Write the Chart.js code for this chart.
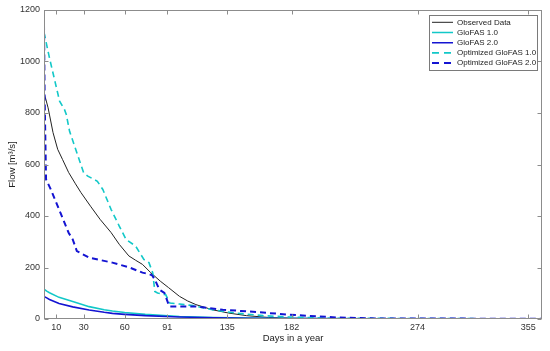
<!DOCTYPE html>
<html><head><meta charset="utf-8">
<script src="https://cdn.jsdelivr.net/npm/chart.js@4"></script>
<style>html,body{margin:0;padding:0;background:#fff}</style>
</head><body>
<canvas id="c" width="550" height="351"></canvas>
<script>
// ---- data ----
const xTicks = [10, 30, 60, 91, 135, 182, 274, 355];
const yTicks = [0, 200, 400, 600, 800, 1000, 1200];
const seriesNames = ['Observed Data', 'GloFAS 1.0', 'GloFAS 2.0', 'Optimized GloFAS 1.0', 'Optimized GloFAS 2.0'];

const obsDays = [1, 2, 4, 7.6, 11, 14.5, 19, 24, 28, 35, 42, 50, 56, 63, 68, 73, 79, 86, 92, 100, 106, 112, 124, 136, 149, 165, 182, 220, 365];
const obsFlow = [870, 860, 820, 724, 659, 620, 569, 525, 491, 438, 387, 336, 290, 245, 228, 212, 180, 147, 122, 88, 70, 56, 36, 23, 13, 6, 3, 1, 0.5];

const g1Days = [1, 3, 5, 12, 22, 34, 45, 51, 60, 75, 100, 125, 150, 182, 240, 365];
const g1Flow = [116, 108, 102, 84, 68, 48, 36, 31, 25, 18, 10, 6, 4, 2, 1, 0.3];

const g2Days = [1, 3, 5, 12, 22, 34, 45, 51, 60, 75, 100, 125, 150, 182, 240, 365];
const g2Flow = [87, 82, 76, 60, 47, 35, 26, 22, 18, 13, 8, 5, 3, 2, 1, 0.3];

const og1Days = [1, 5, 9, 12.4, 16, 17.3, 19.7, 25, 30, 33, 40, 44, 50, 56, 61, 68, 74, 77.7, 80.5, 82, 84, 90, 93, 100, 110, 124, 141, 161, 180, 210, 365];
const og1Flow = [1113, 1014, 923, 846, 813, 794, 729, 646, 568, 555, 535, 503, 426, 361, 309, 283, 231, 219, 179, 107, 101, 94, 62, 58, 52, 36, 23, 13, 8, 3, 0.5];

const og2Days = [1, 1.5, 2.5, 6, 12, 19, 22, 25, 34, 51, 63.5, 73, 78, 80, 82, 85.4, 89, 92.6, 112, 131.6, 148.7, 165.7, 180, 195, 215, 245, 365];
const og2Flow = [1144, 853, 542, 503, 426, 335, 309, 264, 238, 219, 200, 180, 174, 170, 153, 114, 101, 49, 49, 36, 30, 23, 17, 12, 6, 2, 1];

const zip = (xs, ys) => xs.map((x, i) => ({x: x, y: ys[i]}));

const CYAN = '#12C8C8';
const BLUE = '#1414D2';

const FONT = 'Liberation Sans, Arial, Helvetica, sans-serif';

const boxPlugin = {
  id: 'matlabBox',
  afterLayout(chart) {
    const l = chart.legend;
    if (!l) return;
    l.left = 429.8; l.top = 16.1; l.width = 108; l.right = l.left + l.width;
    l.height = 290; l.bottom = l.top + l.height;
  },
  afterDraw(chart) {
    const {ctx, chartArea: a, scales: {x, y}} = chart;
    ctx.save();
    ctx.strokeStyle = '#8c8c8c';
    ctx.lineWidth = 1;
    const L = Math.round(a.left) + 0.5, R = Math.round(a.right) - 0.5;
    const T = Math.round(a.top) + 0.5, B = Math.round(a.bottom) - 0.5;
    ctx.strokeRect(L, T, R - L, B - T);
    ctx.beginPath();
    xTicks.forEach(v => {
      const p = Math.round(x.getPixelForValue(v)) + 0.5;
      ctx.moveTo(p, B); ctx.lineTo(p, B - 4);
      ctx.moveTo(p, T); ctx.lineTo(p, T + 4);
    });
    yTicks.forEach(v => {
      const p = Math.round(y.getPixelForValue(v)) + 0.5;
      ctx.moveTo(L, p); ctx.lineTo(L + 4, p);
      ctx.moveTo(R, p); ctx.lineTo(R - 4, p);
    });
    ctx.stroke();
    ctx.strokeStyle = '#7a7a7a';
    ctx.strokeRect(429.5, 15.5, 108, 55);
    ctx.restore();
  }
};

new Chart(document.getElementById('c'), {
  type: 'line',
  data: {
    datasets: [
      {label: seriesNames[0], data: zip(obsDays, obsFlow), borderColor: '#222222', backgroundColor: '#222222', borderWidth: 1, order: 5},
      {label: seriesNames[1], data: zip(g1Days, g1Flow), borderColor: CYAN, backgroundColor: CYAN, borderWidth: 1.6, order: 4},
      {label: seriesNames[2], data: zip(g2Days, g2Flow), borderColor: BLUE, backgroundColor: BLUE, borderWidth: 1.6, order: 3},
      {label: seriesNames[3], data: zip(og1Days, og1Flow), borderColor: CYAN, backgroundColor: CYAN, borderWidth: 1.6, borderDash: [6, 4], order: 2},
      {label: seriesNames[4], data: zip(og2Days, og2Flow), borderColor: BLUE, backgroundColor: BLUE, borderWidth: 2, borderDash: [6, 4], order: 1}
    ]
  },
  options: {
    responsive: false,
    animation: false,
    devicePixelRatio: 1,
    elements: {point: {radius: 0}, line: {tension: 0}},
    layout: {padding: {left: 0, top: 10, right: 8, bottom: 0}},
    plugins: {
      tooltip: {enabled: false},
      legend: {
        position: 'chartArea',
        align: 'start',
        labels: {
          usePointStyle: true,
          pointStyle: 'line',
          pointStyleWidth: 21,
          padding: 2.2,
          color: '#222',
          font: {family: FONT, size: 8},
          sort: (a, b) => a.datasetIndex - b.datasetIndex,
          generateLabels: (chart) => {
            const items = Chart.defaults.plugins.legend.labels.generateLabels(chart);
            items.forEach(it => {
              const ds = chart.data.datasets[it.datasetIndex];
              it.lineDash = ds.borderDash ? [7, 5] : [];
              it.lineWidth = ds.borderWidth;
              it.strokeStyle = ds.borderColor;
            });
            return items;
          }
        }
      }
    },
    scales: {
      x: {
        type: 'linear', min: 1, max: 365,
        afterBuildTicks: s => { s.ticks = xTicks.map(v => ({value: v})); },
        afterFit: s => { s.height = 32; },
        grid: {display: false, drawTicks: false},
        border: {display: false},
        ticks: {autoSkip: false, maxRotation: 0, padding: 3, color: '#333', font: {family: FONT, size: 9}, callback: v => String(v)},
        title: {display: true, text: 'Days in a year', color: '#222', font: {family: FONT, size: 9.5}, padding: {top: 0, bottom: 7}}
      },
      y: {
        min: 0, max: 1200,
        afterBuildTicks: s => { s.ticks = yTicks.map(v => ({value: v})); },
        afterFit: s => { s.width = 44; },
        grid: {display: false, drawTicks: false},
        border: {display: false},
        ticks: {padding: 4, color: '#333', font: {family: FONT, size: 9}, callback: v => String(v)},
        title: {display: true, text: 'Flow [m³/s]', color: '#222', font: {family: FONT, size: 9.5}, padding: {top: 7, bottom: 0}}
      }
    }
  },
  plugins: [boxPlugin]
});
</script>
</body></html>
